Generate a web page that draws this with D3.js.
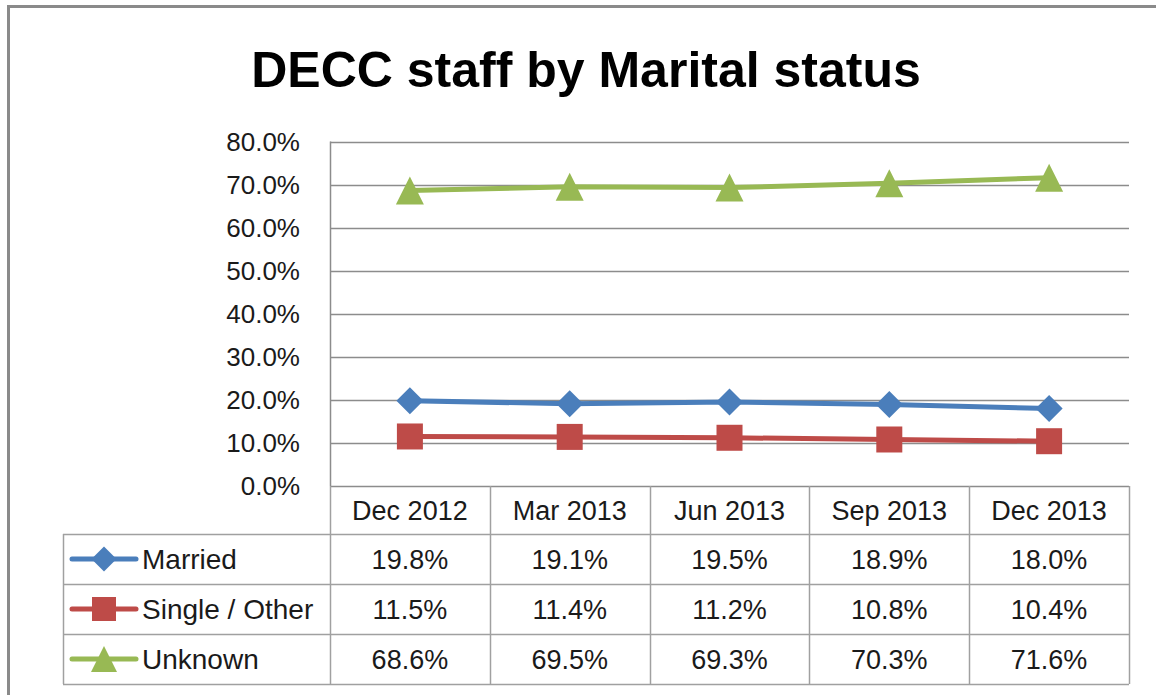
<!DOCTYPE html>
<html lang="en">
<head>
<meta charset="utf-8">
<title>DECC staff by Marital status</title>
<script src="https://cdn.jsdelivr.net/npm/d3@7"></script>
<style>
  body { margin: 0; background: #fff; }
  svg text { font-family: "Liberation Sans", Arial, sans-serif; fill: #1a1a1a; }
</style>
</head>
<body>
<svg id="chart" width="1156" height="695"></svg>
<script>
// data
var categories = ["Dec 2012", "Mar 2013", "Jun 2013", "Sep 2013", "Dec 2013"];
var seriesNames = ["Married", "Single / Other", "Unknown"];
var married = [19.8, 19.1, 19.5, 18.9, 18.0];
var single = [11.5, 11.4, 11.2, 10.8, 10.4];
var unknown = [68.6, 69.5, 69.3, 70.3, 71.6];
var yTicks = [0, 10, 20, 30, 40, 50, 60, 70, 80];

var colors = ["#4a7ebb", "#be4b48", "#98b954"];
var markers = ["diamond", "square", "triangle"];
var allSeries = [married, single, unknown];

var svg = d3.select("#chart");

// outer chart border (right/bottom fall off the picture)
svg.append("rect")
  .attr("x", 8.5).attr("y", 6.5)
  .attr("width", 1200).attr("height", 800)
  .attr("fill", "none").attr("stroke", "#8a8a8a").attr("stroke-width", 3);

// title
svg.append("text")
  .attr("x", 586).attr("y", 87)
  .attr("text-anchor", "middle")
  .style("font-size", "50px").style("font-weight", "bold").style("fill", "#000")
  .text("DECC staff by Marital status");

var plotLeft = 330, plotRight = 1129, plotTop = 141.5, plotBottom = 486;
var x = d3.scaleBand().domain(categories).range([plotLeft, plotRight]);
var y = d3.scaleLinear().domain([0, 80]).range([plotBottom, plotTop]);
var cx = function(c) { return x(c) + x.bandwidth() / 2; };

var gridColor = "#8c8c8c";

// gridlines
svg.append("g").selectAll("line").data(yTicks).join("line")
  .attr("x1", plotLeft).attr("x2", plotRight)
  .attr("y1", function(d) { return Math.round(y(d)) + 0.5; })
  .attr("y2", function(d) { return Math.round(y(d)) + 0.5; })
  .attr("stroke", gridColor).attr("stroke-width", 1.5);

// value axis line
svg.append("line")
  .attr("x1", plotLeft + 0.5).attr("x2", plotLeft + 0.5)
  .attr("y1", plotTop).attr("y2", plotBottom)
  .attr("stroke", gridColor).attr("stroke-width", 1.5);

// y tick labels
svg.append("g").selectAll("text").data(yTicks).join("text")
  .attr("x", 300).attr("y", function(d) { return y(d); })
  .attr("dy", "0.36em")
  .attr("text-anchor", "end")
  .style("font-size", "26px")
  .text(function(d) { return d.toFixed(1) + "%"; });

// marker shapes
function markerPath(type, s) {
  if (type === "diamond") return "M0," + (-s) + "L" + s + ",0L0," + s + "L" + (-s) + ",0Z";
  if (type === "square") return "M" + (-s) + "," + (-s) + "H" + s + "V" + s + "H" + (-s) + "Z";
  return "M0," + (-s) + "L" + s + "," + s + "H" + (-s) + "Z";
}
var markerSize = { diamond: 13.5, square: 13, triangle: 14 };

var line = d3.line()
  .x(function(d, i) { return cx(categories[i]); })
  .y(function(d) { return y(d); });

allSeries.forEach(function(vals, si) {
  var g = svg.append("g");
  g.append("path")
    .attr("d", line(vals))
    .attr("fill", "none").attr("stroke", colors[si]).attr("stroke-width", 5);
  g.selectAll("path.m").data(vals).join("path")
    .attr("class", "m")
    .attr("transform", function(d, i) { return "translate(" + cx(categories[i]) + "," + y(d) + ")"; })
    .attr("d", markerPath(markers[si], markerSize[markers[si]]))
    .attr("fill", colors[si]);
});

// data table
var tableLeft = 63, headerBottom = 534, rowH = 50;
var tableColor = "#a0a0a0";
var tg = svg.append("g");

var edges = categories.map(function(c) { return x(c); }).concat([plotRight]);
tg.selectAll("line.v").data(edges).join("line")
  .attr("class", "v")
  .attr("x1", function(d) { return Math.round(d) + 0.5; })
  .attr("x2", function(d) { return Math.round(d) + 0.5; })
  .attr("y1", plotBottom).attr("y2", headerBottom + rowH * 3)
  .attr("stroke", tableColor).attr("stroke-width", 1.5);
tg.append("line")
  .attr("x1", tableLeft + 0.5).attr("x2", tableLeft + 0.5)
  .attr("y1", headerBottom).attr("y2", headerBottom + rowH * 3)
  .attr("stroke", tableColor).attr("stroke-width", 1.5);
tg.selectAll("line.h").data([0, 1, 2, 3]).join("line")
  .attr("class", "h")
  .attr("x1", tableLeft).attr("x2", plotRight)
  .attr("y1", function(d) { return headerBottom + d * rowH + 0.5; })
  .attr("y2", function(d) { return headerBottom + d * rowH + 0.5; })
  .attr("stroke", tableColor).attr("stroke-width", 1.5);

tg.selectAll("text.cat").data(categories).join("text")
  .attr("class", "cat")
  .attr("x", cx).attr("y", (plotBottom + headerBottom) / 2)
  .attr("dy", "0.36em").attr("text-anchor", "middle")
  .style("font-size", "27px")
  .text(function(d) { return d; });

allSeries.forEach(function(vals, si) {
  var rowY = headerBottom + rowH * si + rowH / 2;
  // legend key
  tg.append("line")
    .attr("x1", 72).attr("x2", 136).attr("y1", rowY).attr("y2", rowY)
    .attr("stroke", colors[si]).attr("stroke-width", 5).attr("stroke-linecap", "round");
  tg.append("path")
    .attr("transform", "translate(104," + rowY + ")")
    .attr("d", markerPath(markers[si], markerSize[markers[si]] - 1))
    .attr("fill", colors[si]);
  tg.append("text")
    .attr("x", 142).attr("y", rowY).attr("dy", "0.36em")
    .style("font-size", "28px")
    .text(seriesNames[si]);
  tg.selectAll("text.v" + si).data(vals).join("text")
    .attr("class", "v" + si)
    .attr("x", function(d, i) { return cx(categories[i]); })
    .attr("y", rowY).attr("dy", "0.36em")
    .attr("text-anchor", "middle")
    .style("font-size", "27px")
    .text(function(d) { return d.toFixed(1) + "%"; });
});
</script>
</body>
</html>
